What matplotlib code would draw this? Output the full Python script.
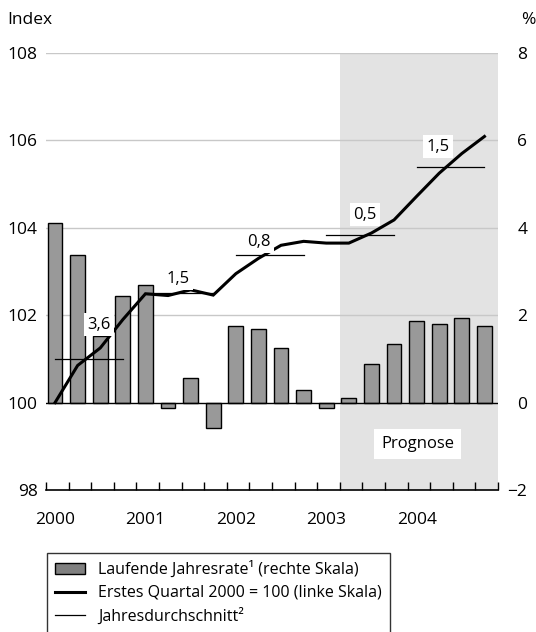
import matplotlib
matplotlib.use("Agg")
import matplotlib.pyplot as plt
import numpy as np
from matplotlib.patches import Patch
from matplotlib.lines import Line2D

plt.rcParams["font.family"] = ["Open Sans", "DejaVu Sans"]

# quarterly data 2000Q1 .. 2004Q4
rate = [4.11, 3.37, 1.53, 2.45, 2.68, -0.12, 0.56, -0.59, 1.76, 1.68,
        1.26, 0.28, -0.12, 0.11, 0.89, 1.35, 1.86, 1.81, 1.94, 1.76]
index = [100.0, 100.85, 101.25, 101.9, 102.49, 102.45, 102.58, 102.46, 102.95, 103.3,
         103.6, 103.69, 103.65, 103.65, 103.88, 104.18, 104.72, 105.25, 105.7, 106.09]
years = ["2000", "2001", "2002", "2003", "2004"]
avg_level = [101.0, 102.5, 103.38, 103.83, 105.4]
avg_label = ["3,6", "1,5", "0,8", "0,5", "1,5"]

x = np.arange(len(rate))
fs = 12.5

fig = plt.figure(figsize=(5.36, 6.32), dpi=100)
ax = fig.add_axes([46 / 536, 1 - 490 / 632, 452 / 536, 437 / 632])
ax2 = ax.twinx()
ax.set_zorder(ax2.get_zorder() + 1)
ax.patch.set_visible(False)

# right axis: shading, grid, bars
ax2.axvspan(12.6, 19.6, color="#e3e3e3", lw=0, zorder=0)
for g in [2, 4, 6, 8]:
    ax2.axhline(g, color="#c8c8c8", lw=1, zorder=1)
ax2.bar(x, rate, width=0.66, color="#999999", edgecolor="black", lw=1, zorder=2)
ax2.axhline(0, color="black", lw=1, zorder=3)
ax2.set_ylim(-2, 8)
ax2.set_yticks([-2, 0, 2, 4, 6, 8])
ax2.set_yticklabels(["\u22122", "0", "2", "4", "6", "8"])
ax2.tick_params(axis="y", length=0, pad=21, labelsize=fs)
for lbl in ax2.get_yticklabels():
    lbl.set_ha("right")

# left axis: index line and annual averages
ax.plot(x, index, color="black", lw=2.2, zorder=5, solid_joinstyle="miter")
label_pos = [(1.94, 101.78), (5.43, 102.83), (9.0, 103.68), (13.72, 104.3), (16.95, 105.85)]
for k, (lev, txt) in enumerate(zip(avg_level, avg_label)):
    ax.plot([4 * k, 4 * k + 3], [lev, lev], color="black", lw=0.9, zorder=4)
    lx, ly = label_pos[k]
    ax.text(lx, ly, txt, ha="center", va="center", fontsize=12, zorder=6,
            bbox=dict(facecolor="white", edgecolor="none", pad=2.5))

ax.text(16.06, 99.06, "Prognose", ha="center", va="center", fontsize=12,
        bbox=dict(facecolor="white", edgecolor="none", pad=5))

ax.set_xlim(-0.4, 19.6)
ax.set_ylim(98, 108)
ax.set_yticks([98, 100, 102, 104, 106, 108])
ax.tick_params(axis="y", length=0, pad=6, labelsize=fs)
ax.set_xticks(np.arange(0, 20, 4))
ax.set_xticklabels(years)
ax.set_xticks(np.arange(-0.4, 19.7, 1), minor=True)
ax.tick_params(axis="x", which="major", length=0, pad=16, labelsize=fs)
ax.tick_params(axis="x", which="minor", direction="in", length=6, width=1)
for a in (ax, ax2):
    for s in ["top", "left", "right"]:
        a.spines[s].set_visible(False)
ax2.spines["bottom"].set_visible(False)
ax.spines["bottom"].set_linewidth(1.2)

fig.text(7 / 536, 1 - 20 / 632, "Index", ha="left", va="center", fontsize=fs)
fig.text(535 / 536, 1 - 20 / 632, "%", ha="right", va="center", fontsize=fs)

handles = [Patch(facecolor="#808080", edgecolor="black", lw=1),
           Line2D([], [], color="black", lw=2.2),
           Line2D([], [], color="black", lw=0.9)]
labels = ["Laufende Jahresrate\u00b9 (rechte Skala)",
          "Erstes Quartal 2000 = 100 (linke Skala)",
          "Jahresdurchschnitt\u00b2"]
leg = fig.legend(handles, labels, loc="upper left", bbox_to_anchor=(47 / 536, 1 - 553 / 632),
                 fontsize=11.5, frameon=True, fancybox=False, edgecolor="black",
                 handlelength=1.9, handleheight=0.6, handletextpad=0.8,
                 labelspacing=0.42, borderpad=0.5, borderaxespad=0)
leg.get_frame().set_linewidth(1)

fig.savefig("out.png", dpi=100)
